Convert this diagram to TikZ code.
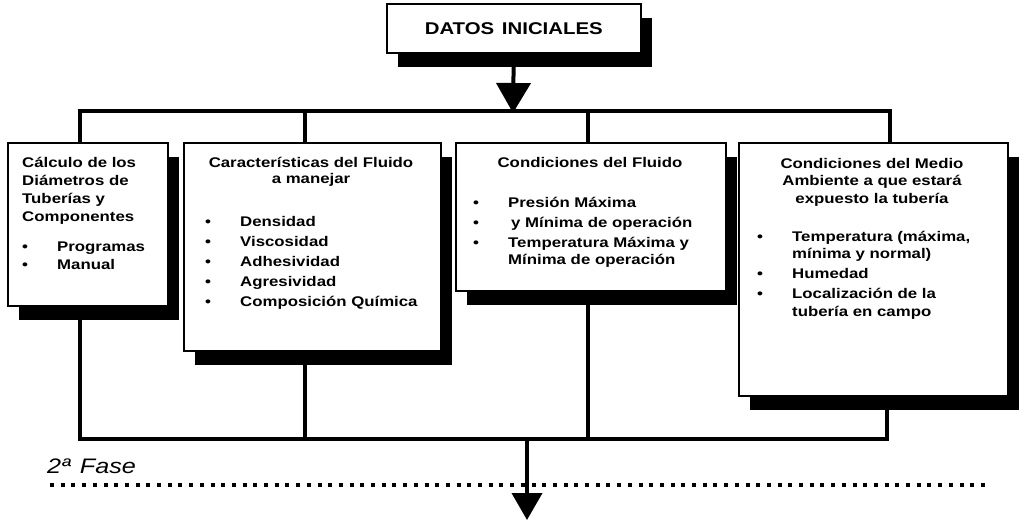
\documentclass[tikz,border=0pt]{standalone}
\usepackage{fontspec}
\setmainfont[FakeStretch=1.2]{Liberation Sans}
\usetikzlibrary{positioning,arrows.meta,shadows}

\newcommand{\itm}[1]{\makebox[35pt][l]{\textbullet}#1}
\newcommand{\tst}{\rule{0pt}{12pt}}

\begin{document}
\begin{tikzpicture}[
    x=1pt, y=-1pt,
    box/.style={
        draw=black,
        line width=1.6pt,
        fill=white,
        anchor=north west,
        inner sep=0pt,
        drop shadow={shadow xshift=11pt, shadow yshift=-14pt, fill=black, opacity=1}
    },
    head/.style={
        inner sep=0pt,
        anchor=north,
        align=center,
        font=\fontsize{14}{17.5}\selectfont\bfseries
    },
    list/.style={
        inner sep=0pt,
        anchor=north west,
        align=left,
        font=\fontsize{14}{17.5}\selectfont\bfseries
    },
    bus/.style={line width=4.5pt, line join=miter},
    arr/.style={line width=4pt},
    dots/.style={line width=4pt, dash pattern=on 4pt off 6.7pt}
]
\useasboundingbox (0,0) rectangle (1019,522);

% top box
\node[box, minimum width=254pt, minimum height=49pt,
      font=\fontsize{17}{20}\selectfont\bfseries] (datos) at (386,3) {DATOS\hspace{0.45em}INICIALES};

% four boxes
\node[box, minimum width=160pt, minimum height=163pt] (calc) at (7,142) {};
\node[box, minimum width=257pt, minimum height=208pt] (fluid) at (183,142) {};
\node[box, minimum width=270pt, minimum height=148pt] (cond) at (455,142) {};
\node[box, minimum width=269pt, minimum height=253pt] (env) at (738,142) {};

% box texts
\node[list, font=\fontsize{14}{18}\selectfont\bfseries] (calc-txt) at (22,155)
    {\tst C\'alculo de los\\Di\'ametros de\\Tuber\'ias y\\Componentes\\[12pt]
     \itm{Programas}\\\itm{Manual}};

\node[head, font=\fontsize{14}{16.5}\selectfont\bfseries] (fluid-hd) at (311,155)
    {\tst Caracter\'isticas del Fluido\\a manejar};
\node[list, font=\fontsize{14}{20}\selectfont\bfseries] (fluid-lst) at (205,214)
    {\tst\itm{Densidad}\\\itm{Viscosidad}\\\itm{Adhesividad}\\\itm{Agresividad}\\\itm{Composici\'on Qu\'imica}};

\node[head] (cond-hd) at (590,155) {\tst Condiciones del Fluido};
\node[list] (cond-lst) at (473,195)
    {\tst\itm{Presi\'on M\'axima}\\[2.5pt]\itm{\hspace{3pt}y M\'inima de operaci\'on}\\[2.5pt]
     \itm{Temperatura M\'axima y}\\\hspace*{35pt}M\'inima de operaci\'on};

\node[head] (env-hd) at (872,156)
    {\tst Condiciones del Medio\\Ambiente a que estar\'a\\expuesto la tuber\'ia};
\node[list] (env-lst) at (757,229)
    {\tst\itm{Temperatura (m\'axima,}\\\hspace*{35pt}m\'inima y normal)\\[2.5pt]
     \itm{Humedad}\\[2.5pt]\itm{Localizaci\'on de la}\\\hspace*{35pt}tuber\'ia en campo};

% upper distribution bus
\coordinate (t0) at (513,113);
\coordinate (t1) at (80,111);
\coordinate (t2) at (305,111);
\coordinate (t3) at (588,111);
\coordinate (t4) at (890,111);
\draw[arr, -{Triangle[width=34pt,length=30pt]}] (datos.south) -- (t0);
\draw[bus] (t1 |- calc.north) -- (t1) -- (t4) -- (t4 |- env.north);
\draw[bus] (t2) -- (t2 |- fluid.north);
\draw[bus] (t3) -- (t3 |- cond.north);

% lower collecting bus
\coordinate (b1) at (80,439);
\coordinate (b2) at (305,439);
\coordinate (b3) at (588,439);
\coordinate (b4) at (887,439);
\coordinate (b0) at (527,439);
\draw[bus] (b1 |- calc.south) -- (b1) -- (b4) -- (b4 |- env.south);
\draw[bus] (b2 |- fluid.south) -- (b2);
\draw[bus] (b3 |- cond.south) -- (b3);

% second phase
\node[inner sep=0pt, anchor=base west, font=\fontsize{21}{24}\selectfont\itshape] (fase) at (47,473)
    {2ª\hspace{0.45em}Fase};
\coordinate (fa) at (50,485);
\coordinate (fb) at (990,485);
\draw[dots] (fa) -- (fb);
\coordinate (out) at (527,520);
\draw[arr, -{Triangle[width=30pt,length=27pt]}] (b0) -- (out);

\end{tikzpicture}
\end{document}
